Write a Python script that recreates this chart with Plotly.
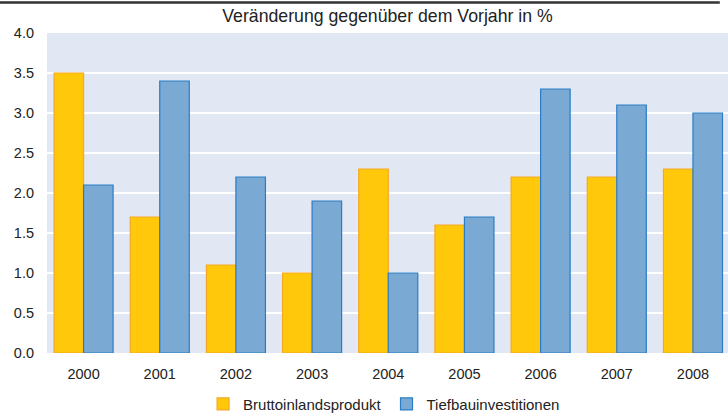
import plotly.graph_objects as go

years = ["2000", "2001", "2002", "2003", "2004", "2005", "2006", "2007", "2008"]
bip = [3.5, 1.7, 1.1, 1.0, 2.3, 1.6, 2.2, 2.2, 2.3]
tiefbau = [2.1, 3.4, 2.2, 1.9, 1.0, 1.7, 3.3, 3.1, 3.0]
y_ticks = [0.0, 0.5, 1.0, 1.5, 2.0, 2.5, 3.0, 3.5, 4.0]
y_ticktext = ["0.0", "0.5", "1.0", "1.5", "2.0", "2.5", "3.0", "3.5", "4.0"]

fig = go.Figure()
fig.add_trace(go.Bar(
    x=years, y=bip, name="Bruttoinlandsprodukt",
    marker=dict(color="#FFC80B", line=dict(color="#F7A823", width=1.2)),
))
fig.add_trace(go.Bar(
    x=years, y=tiefbau, name="Tiefbauinvestitionen",
    marker=dict(color="#7AAAD4", line=dict(color="#2A7CC4", width=1.2)),
))

fig.update_layout(
    width=728, height=414,
    margin=dict(l=47, r=0, t=33, b=61, autoexpand=False),
    paper_bgcolor="white",
    plot_bgcolor="#E1E8F4",
    font=dict(family="Liberation Sans, Arial, sans-serif", size=14.5, color="#222222"),
    barmode="group",
    bargap=0.225,
    bargroupgap=0.0,
    showlegend=True,
    legend=dict(orientation="h", x=0.495, xanchor="center", y=-0.16, yanchor="middle",
                font=dict(size=15), itemwidth=30, traceorder="normal",
                bgcolor="rgba(0,0,0,0)"),
    title=dict(text="Veränderung gegenüber dem Vorjahr in %", x=0.5, xref="paper",
               xanchor="center", y=1 - 16 / 414, yanchor="middle",
               font=dict(size=17.7, color="#222222"), automargin=False),
    xaxis=dict(range=[-0.48, 8.46], showgrid=False, zeroline=False, showline=False,
               ticks="", tickfont=dict(size=14.5), automargin=False, ticklabelstandoff=10),
    yaxis=dict(range=[0, 4], tickvals=y_ticks, ticktext=y_ticktext, showgrid=True,
               gridcolor="white", gridwidth=2, zeroline=False, showline=False,
               ticks="", tickfont=dict(size=14.5), automargin=False, ticklabelstandoff=12),
    shapes=[dict(type="line", xref="paper", yref="paper",
                 x0=-0.07, x1=0.988, y0=1.0953, y1=1.0953,
                 line=dict(color="#333333", width=2.5))],
)

fig.write_html(
    "out.html",
    config={"displayModeBar": False},
    post_script="document.body.style.margin='0';document.body.style.padding='0';",
)
